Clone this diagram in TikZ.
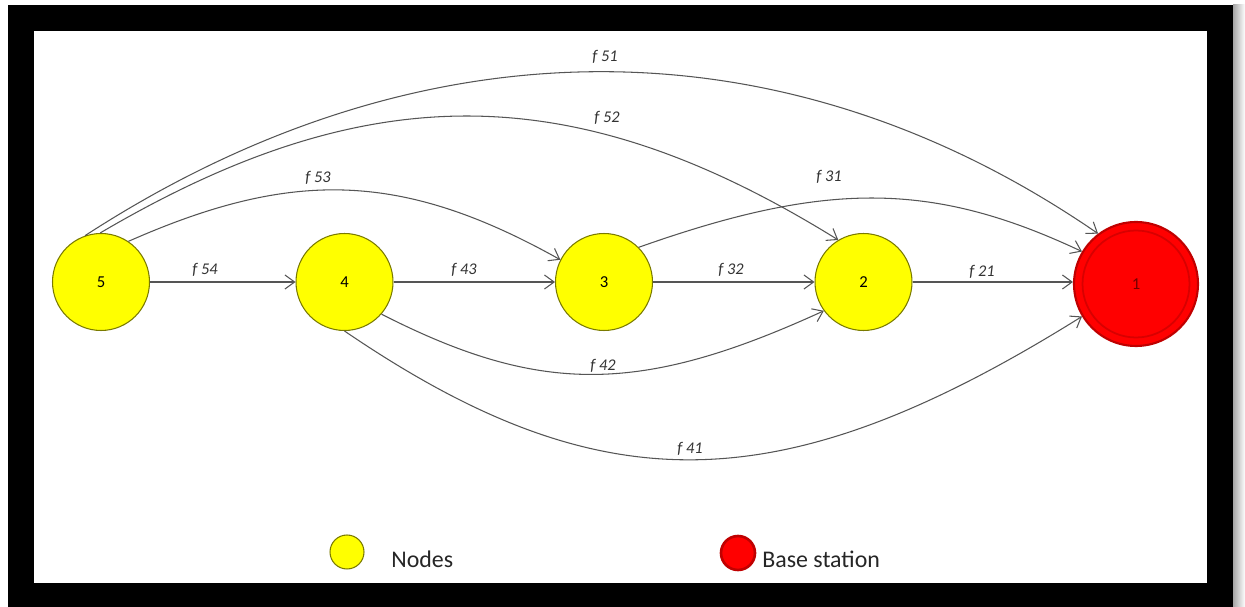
\documentclass[tikz,border=0pt]{standalone}
\usepackage{fontspec}
\setmainfont{Carlito}
\usetikzlibrary{arrows.meta}
\definecolor{nodeyellow}{HTML}{FFFF00}
\definecolor{nodeborder}{HTML}{7A7A00}
\definecolor{bsred}{HTML}{FF0000}
\definecolor{bsborder}{HTML}{C00000}
\definecolor{bsring}{HTML}{D80000}
\definecolor{edgegray}{HTML}{555555}
\definecolor{labelgray}{HTML}{333333}
\begin{document}
\begin{tikzpicture}[x=0.02cm, y=-0.02cm,
  flownode/.style={circle, draw=nodeborder, fill=nodeyellow, line width=0.6pt, minimum size=1.94cm, inner sep=0pt, font=\fontsize{9.5}{11}\selectfont},
  basenode/.style={circle, draw=bsborder, fill=bsred, line width=1.2pt, minimum size=2.48cm, inner sep=0pt},
  ringnode/.style={circle, draw=bsring, line width=1pt, minimum size=2.14cm, inner sep=0pt},
  flow/.style={draw=edgegray, line width=0.6pt, -{Straight Barb[length=5.5pt,width=8pt]}},
  flowlabel/.style={font=\fontsize{9.3}{11}\selectfont\itshape, text=labelgray, inner sep=1pt},
  legendtext/.style={font=\fontsize{13.6}{16}\selectfont, text=black!85, anchor=base west, inner sep=0pt}]
\useasboundingbox (0,0) rectangle (1245,607);
% frame
\fill[white] (0,0) rectangle (1245,607);
\fill[black] (8,5) rectangle (1233,607);
\fill[white] (34,31) rectangle (1207,583);
\shade[left color=gray!70, right color=white] (1233,5) rectangle (1245,607);
% nodes
\node[flownode] (n5) at (101,282) {5};
\node[flownode] (n4) at (344.5,282) {4};
\node[flownode] (n3) at (604,282) {3};
\node[flownode] (n2) at (863.5,282) {2};
\node[basenode] (n1) at (1136,284) {};
\node[ringnode] (n1ring) at (n1) {};
\node[font=\fontsize{9.5}{11}\selectfont, text=bsborder!60!black, inner sep=0pt] (n1txt) at (n1) {1};
% straight edges
\draw[flow] (n5.east) -- (n4.west);
\draw[flow] (n4.east) -- (n3.west);
\draw[flow] (n3.east) -- (n2.west);
\draw[flow] (n2.east) -- (n2.east -| n1.west);
% curved edges
\draw[flow] (n5.109) .. controls (421,17.5) and (784,17.5) .. (n1.127);
\draw[flow] (n5.91) .. controls (367,76) and (574,76) .. (n2.121);
\draw[flow] (n5.56) .. controls (290,170) and (400,170) .. (n3.153);
\draw[flow] (n3.45) .. controls (826,181) and (932,181) .. (n1.149);
\draw[flow] (n4.-41) .. controls (540,395) and (640,395) .. (n2.-144.5);
\draw[flow] (n4.south) .. controls (600,505) and (780,505) .. (n1.211);
% labels
\node[flowlabel] (l51) at (605,57) {f 51};
\node[flowlabel] (l52) at (607,118) {f 52};
\node[flowlabel] (l53) at (318,178) {f 53};
\node[flowlabel] (l31) at (829,177) {f 31};
\node[flowlabel] (l54) at (205,270) {f 54};
\node[flowlabel] (l43) at (464,270) {f 43};
\node[flowlabel] (l32) at (731,270) {f 32};
\node[flowlabel] (l21) at (982,272) {f 21};
\node[flowlabel] (l42) at (603,366) {f 42};
\node[flowlabel] (l41) at (690,449) {f 41};
% legend
\node[circle, draw=nodeborder, fill=nodeyellow, line width=0.6pt, minimum size=0.68cm, inner sep=0pt] (legnode) at (347,552) {};
\node[legendtext] (legnodetxt) at (391,568) {Nodes};
\node[circle, draw=bsborder, fill=bsred, line width=1.5pt, minimum size=0.68cm, inner sep=0pt] (legbase) at (738,553) {};
\node[legendtext] (legbasetxt) at (762,568) {Base station};
\end{tikzpicture}
\end{document}
